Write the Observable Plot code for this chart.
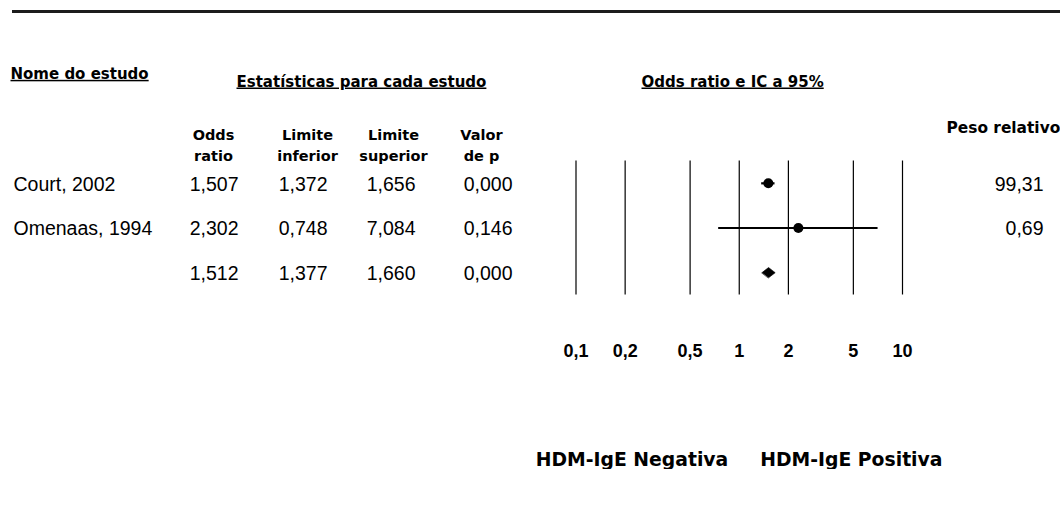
<!DOCTYPE html>
<html><head><meta charset="utf-8">
<script src="https://cdn.jsdelivr.net/npm/d3@7"></script>
<script src="https://cdn.jsdelivr.net/npm/@observablehq/plot@0.6"></script>
<style>
body{margin:0;background:#fff;}
#wrap{position:relative;width:1060px;height:506px;overflow:hidden;background:#fff;}
#wrap svg{overflow:hidden;}
#topline{position:absolute;left:12px;right:0;top:10px;height:3px;background:#1c1c1c;}
</style></head><body><div id="wrap"></div>
<script>
// ---- data ----
const studies = ["Court, 2002", "Omenaas, 1994", ""];
const oddsRatio = [1.507, 2.302, 1.512];
const lowerLimit = [1.372, 0.748, 1.377];
const upperLimit = [1.656, 7.084, 1.660];
const pValue = [0.000, 0.146, 0.000];
const relWeight = [99.31, 0.69, null];
const xTicks = [0.1, 0.2, 0.5, 1, 2, 5, 10];
const xTickLabels = ["0,1", "0,2", "0,5", "1", "2", "5", "10"];
const columnHeaders = ["Odds\nratio", "Limite\ninferior", "Limite\nsuperior", "Valor\nde p"];
const sectionHeaders = ["Nome do estudo", "Estatísticas para cada estudo", "Odds ratio e IC a 95%"];
const weightHeader = "Peso relativo";
const favourLabels = ["HDM-IgE Negativa", "HDM-IgE Positiva"];

// ---- build ----
const comma = (f) => (v) => v == null ? "" : d3.format(f)(v).replace(".", ",");
const rows = studies.map((s, i) => ({
  row: i, name: s, or: oddsRatio[i], lo: lowerLimit[i], hi: upperLimit[i],
  p: pValue[i], w: relWeight[i], summary: i === studies.length - 1
}));
const single = rows.filter(d => !d.summary);
const summ = rows.filter(d => d.summary)[0];
const dh = 0.115;
const diamond = [
  {x: summ.lo, y: summ.row}, {x: summ.or, y: summ.row - dh},
  {x: summ.hi, y: summ.row}, {x: summ.or, y: summ.row + dh}
];
const tickData = xTicks.map((v, i) => ({v, label: xTickLabels[i]}));

const W = 1060, H = 469, ML = 575.5, MR = 158, MT = 160.5, MB = H - 294.5;
const L = (px) => px - ML;          // offset from frame left
const R = (px) => px - (W - MR);    // offset from frame right
const T = (px) => px - MT;          // offset from frame top
const arial = "Liberation Sans, Arial, sans-serif";
const tahoma = "DejaVu Sans, Verdana, sans-serif";
const valStyle = {fontSize: 19.5, fontFamily: arial, lineAnchor: "middle", fill: "black", dy: 1};

const colX = [213, 307, 393, 481];

const plot = Plot.plot({
  width: W, height: H,
  marginLeft: ML, marginRight: MR, marginTop: MT, marginBottom: MB,
  style: {fontFamily: arial, background: "white", color: "black"},
  x: {type: "log", domain: [0.1, 10], axis: null},
  y: {domain: [-0.5, 2.5], reverse: true, axis: null},
  marks: [
    Plot.ruleX(xTicks, {stroke: "black", strokeWidth: 1.2}),
    Plot.ruleY(single, {y: "row", x1: "lo", x2: "hi", stroke: "black", strokeWidth: 2.2}),
    Plot.dot(single, {x: "or", y: "row", r: 5, fill: "black", stroke: null}),
    Plot.line(diamond, {x: "x", y: "y", curve: "linear-closed", fill: "black", stroke: "black", strokeWidth: 0.6}),
    // tick labels
    Plot.text(tickData, {x: "v", text: "label", frameAnchor: "bottom", lineAnchor: "middle", dy: 56.5,
      fontSize: 18, fontWeight: "bold", fontFamily: arial, fill: "black"}),
    // table values
    Plot.text(rows, {y: "row", text: "name", frameAnchor: "left", textAnchor: "start", dx: L(13), ...valStyle}),
    Plot.text(rows, {y: "row", text: d => comma(".3f")(d.or), frameAnchor: "left", textAnchor: "end", dx: L(238), ...valStyle}),
    Plot.text(rows, {y: "row", text: d => comma(".3f")(d.lo), frameAnchor: "left", textAnchor: "end", dx: L(327), ...valStyle}),
    Plot.text(rows, {y: "row", text: d => comma(".3f")(d.hi), frameAnchor: "left", textAnchor: "end", dx: L(415), ...valStyle}),
    Plot.text(rows, {y: "row", text: d => comma(".3f")(d.p), frameAnchor: "left", textAnchor: "end", dx: L(512), ...valStyle}),
    Plot.text(rows, {y: "row", text: d => comma(".2f")(d.w), frameAnchor: "right", textAnchor: "end", dx: R(1043), ...valStyle}),
    // column headers
    ...columnHeaders.map((h, i) => Plot.text([h], {text: d => d, frameAnchor: "top-left",
      textAnchor: "middle", lineAnchor: "top", lineHeight: 1.45, dx: L(colX[i]), dy: T(124.7),
      fontFamily: tahoma, fontWeight: "bold", fontSize: 14.5, fill: "black"})),
    Plot.text([weightHeader], {text: d => d, frameAnchor: "top-left", textAnchor: "start",
      lineAnchor: "middle", dx: L(946), dy: T(127.2),
      fontFamily: tahoma, fontWeight: "bold", fontSize: 15.4, fill: "black"}),
    // section headers (underlined)
    Plot.text([sectionHeaders[0]], {text: d => d, frameAnchor: "top-left", textAnchor: "start", lineAnchor: "middle",
      dx: L(10), dy: T(73.5), fontFamily: tahoma, fontWeight: "bold", fontSize: 15, fill: "black", ariaDescription: "underline"}),
    Plot.text([sectionHeaders[1]], {text: d => d, frameAnchor: "top-left", textAnchor: "start", lineAnchor: "middle",
      dx: L(236), dy: T(81.2), fontFamily: tahoma, fontWeight: "bold", fontSize: 15, fill: "black", ariaDescription: "underline"}),
    Plot.text([sectionHeaders[2]], {text: d => d, frameAnchor: "top-left", textAnchor: "start", lineAnchor: "middle",
      dx: L(641), dy: T(81.2), fontFamily: tahoma, fontWeight: "bold", fontSize: 15, fill: "black", ariaDescription: "underline"}),
    // favour labels
    Plot.text([favourLabels[0]], {x: () => 1, text: d => d, frameAnchor: "bottom", textAnchor: "end", lineAnchor: "middle",
      dx: -11, dy: 164.5, fontFamily: tahoma, fontWeight: "bold", fontSize: 18.8, fill: "black"}),
    Plot.text([favourLabels[1]], {x: () => 1, text: d => d, frameAnchor: "bottom", textAnchor: "start", lineAnchor: "middle",
      dx: 21, dy: 164.5, fontFamily: tahoma, fontWeight: "bold", fontSize: 18.8, fill: "black"})
  ]
});
d3.select(plot).selectAll('[aria-description="underline"] text').style("text-decoration", "underline");
const wrap = document.getElementById("wrap");
wrap.appendChild(plot);
const tl = document.createElement("div");
tl.id = "topline";
wrap.appendChild(tl);
</script></body></html>
